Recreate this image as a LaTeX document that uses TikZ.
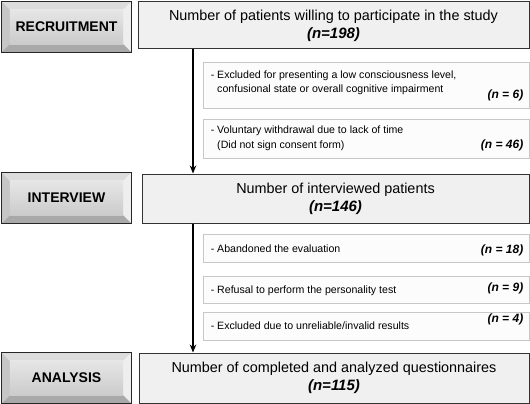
\documentclass[tikz,border=0pt]{standalone}
\usepackage{fontspec}
\setmainfont{Liberation Sans}
\usetikzlibrary{calc,backgrounds,arrows.meta}
\definecolor{bvtop}{HTML}{DCDCDC}
\definecolor{bvleft}{HTML}{C6C6C6}
\definecolor{bvright}{HTML}{EEEEEE}
\definecolor{bvbot}{HTML}{A9A9A9}
\definecolor{faceA}{HTML}{E6E6E6}
\definecolor{faceB}{HTML}{CBCBCB}
\newcommand\nmainfont{\fontsize{15}{18}\selectfont\bfseries\itshape}
\newcommand\mybevel[1]{%
  \begin{scope}[on background layer]
    \fill[bvtop] (#1.north west) -- (#1.north east) -- ($(#1.north east)+(-8,8)$) -- ($(#1.north west)+(8,8)$) -- cycle;
    \fill[bvleft] (#1.north west) -- ($(#1.north west)+(8,8)$) -- ($(#1.south west)+(8,-8)$) -- (#1.south west) -- cycle;
    \fill[bvright] (#1.north east) -- (#1.south east) -- ($(#1.south east)+(-8,-8)$) -- ($(#1.north east)+(-8,8)$) -- cycle;
    \fill[bvbot] (#1.south west) -- ($(#1.south west)+(8,-8)$) -- ($(#1.south east)+(-8,-8)$) -- (#1.south east) -- cycle;
    \shade[top color=faceA,bottom color=faceB] ($(#1.north west)+(8,8)$) rectangle ($(#1.south east)+(-8,-8)$);
    \draw[black!85,line width=1.2pt] (#1.north west) rectangle (#1.south east);
  \end{scope}}
\begin{document}
\begin{tikzpicture}[x=1pt,y=-1pt,
  leftbox/.style={minimum width=129pt,minimum height=50pt,inner sep=0pt,font=\fontsize{14}{16}\selectfont\bfseries},
  mainbox/.style={draw=black!80,fill=black!6,line width=1pt,minimum width=391pt,minimum height=47pt,inner sep=0pt,align=center,font=\fontsize{14.4}{18}\selectfont},
  subbox/.style={draw=black!22,fill=black!1,line width=0.9pt,inner sep=0pt,minimum width=326pt},
  subtxt/.style={font=\fontsize{10.6}{14}\selectfont,anchor=west,align=left,inner sep=0pt},
  ntxt/.style={font=\fontsize{12}{14}\selectfont\bfseries\itshape,anchor=east,inner sep=0pt},
  flow/.style={line width=1.1pt,-{Stealth[length=8pt,width=6.5pt]}}]
\useasboundingbox (0,0) rectangle (530,404);

% stage labels
\node[leftbox] (rec) at (66.5,27) {RECRUITMENT};
\node[leftbox] (int) at (66.5,198) {INTERVIEW};
\node[leftbox] (ana) at (66.5,378) {ANALYSIS};
\mybevel{rec}\mybevel{int}\mybevel{ana}

% main boxes
\node[mainbox] (m1) at (333.5,25.5) {Number of patients willing to participate in the study\\ {\nmainfont(n=198)}};
\node[mainbox,minimum width=387pt,minimum height=49pt] (m2) at (335.5,198.5) {Number of interviewed patients\\ {\nmainfont(n=146)}};
\node[mainbox,minimum width=390pt,minimum height=50pt] (m3) at (334,378) {Number of completed and analyzed questionnaires\\ {\nmainfont(n=115)}};

% exclusion boxes
\node[subbox,minimum height=46pt] (s1) at (366,85) {};
\node[subbox,minimum height=39pt] (s2) at (366,138.5) {};
\node[subbox,minimum height=28pt] (s3) at (366,248) {};
\node[subbox,minimum height=27pt] (s4) at (366,289.5) {};
\node[subbox,minimum height=28pt] (s5) at (366,326) {};

\node[subtxt] (t1) at ($(s1.west)+(8,-2)$) {- Excluded for presenting a low consciousness level,\\ \hphantom{- }confusional state or overall cognitive impairment};
\node[ntxt] (n1) at ($(s1.east)+(-6,10)$) {(n = 6)};
\node[subtxt,font=\fontsize{10.6}{15}\selectfont] (t2) at ($(s2.west)+(8,0)$) {- Voluntary withdrawal due to lack of time\\ \hphantom{- }(Did not sign consent form)};
\node[ntxt] (n2) at ($(s2.east)+(-6,7)$) {(n = 46)};
\node[subtxt] (t3) at ($(s3.west)+(8,1)$) {- Abandoned the evaluation};
\node[ntxt] (n3) at ($(s3.east)+(-6,2)$) {(n = 18)};
\node[subtxt] (t4) at ($(s4.west)+(8,1)$) {- Refusal to perform the personality test};
\node[ntxt] (n4) at ($(s4.east)+(-6,-1)$) {(n = 9)};
\node[subtxt] (t5) at ($(s5.west)+(8,0)$) {- Excluded due to unreliable/invalid results};
\node[ntxt] (n5) at ($(s5.east)+(-6,-7)$) {(n = 4)};

% flow arrows
\coordinate (ax) at (193,0);
\draw[flow] (m1.south -| ax) -- (m2.north -| ax);
\draw[flow] (m2.south -| ax) -- (m3.north -| ax);
\end{tikzpicture}
\end{document}
